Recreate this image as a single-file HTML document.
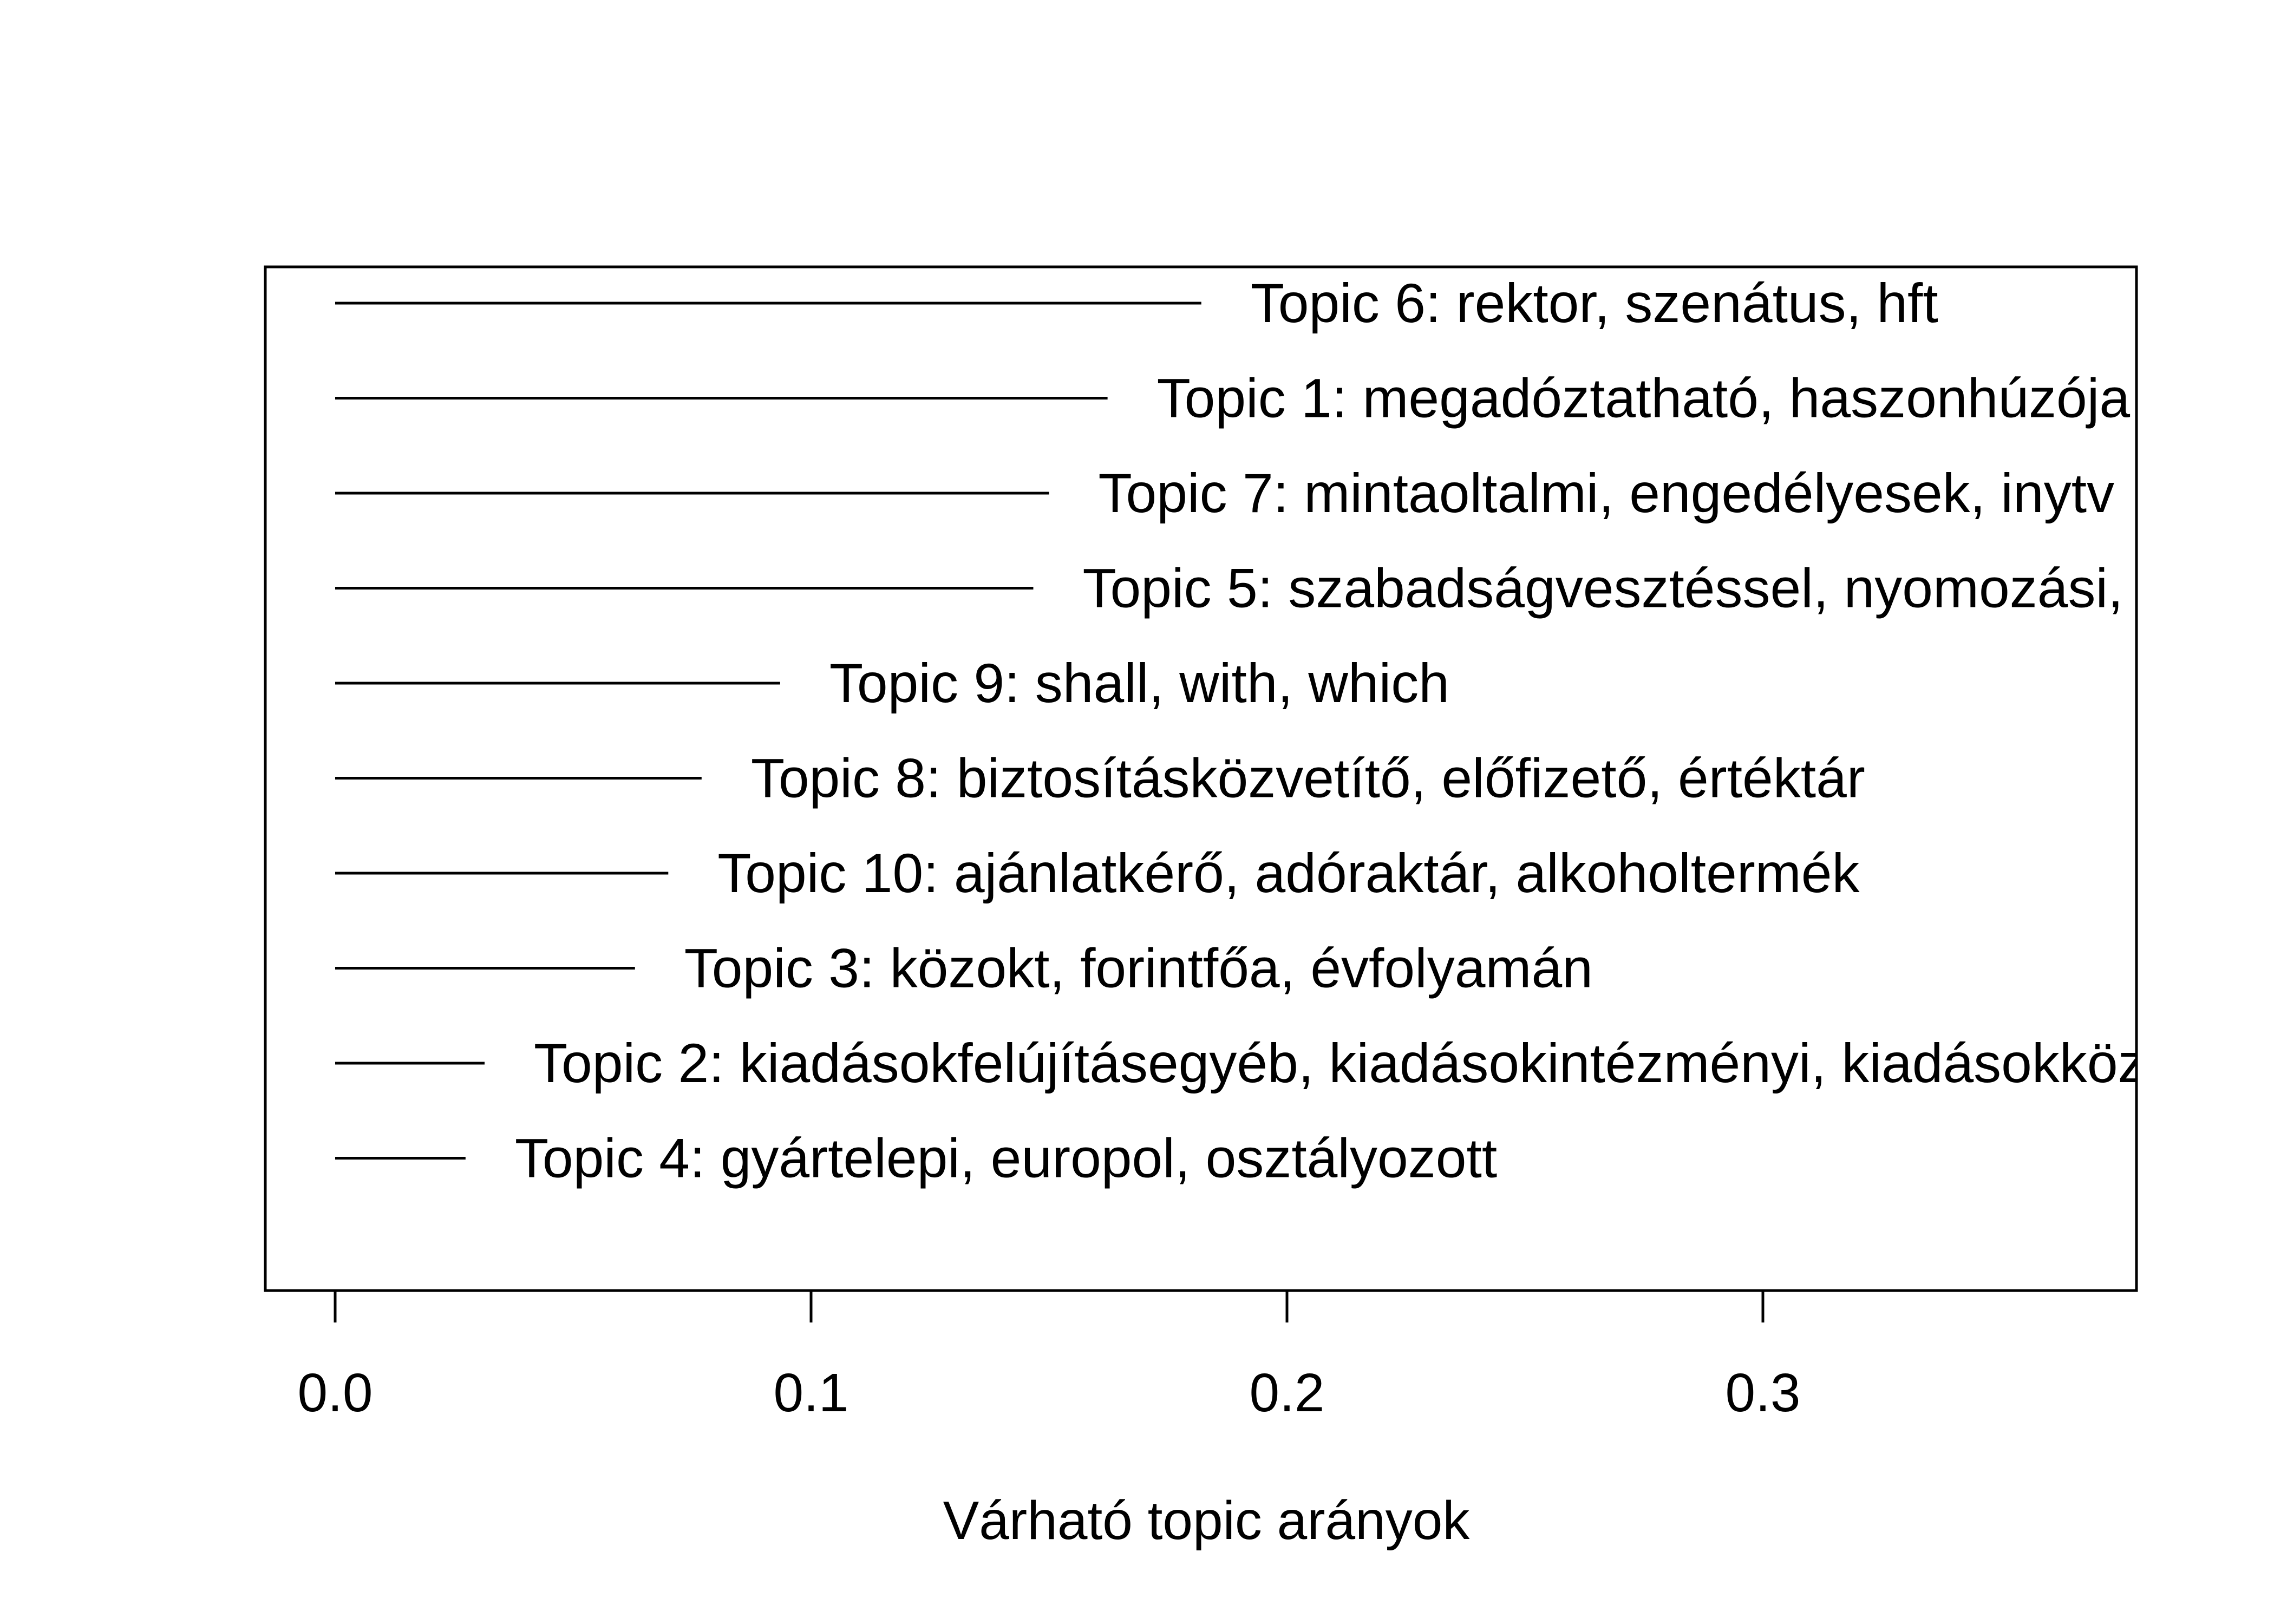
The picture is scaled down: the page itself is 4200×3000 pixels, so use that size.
<!DOCTYPE html>
<html><head><meta charset="utf-8"><style>
html,body{margin:0;padding:0;background:#fff;}
svg{display:block;font-family:"Liberation Sans",Arial,sans-serif;}
</style></head><body>
<svg id="chart" width="4200" height="3000" viewBox="0 0 4200 3000">
<defs><clipPath id="plotclip"><rect x="490" y="493" width="3456" height="1891"/></clipPath></defs>
<rect x="490" y="493" width="3456" height="1891" fill="none" stroke="#000" stroke-width="5"/>
<g id="marks" clip-path="url(#plotclip)"></g>
<g id="xaxis"></g>
<text x="2228" y="2843" font-size="100" text-anchor="middle">Várható topic arányok</text>
</svg>
<script>
const topicLabels = ["Topic 6: rektor, szenátus, hft","Topic 1: megadóztatható, haszonhúzója, kettős","Topic 7: mintaoltalmi, engedélyesek, inytv","Topic 5: szabadságvesztéssel, nyomozási, büntetőeljárás","Topic 9: shall, with, which","Topic 8: biztosításközvetítő, előfizető, értéktár","Topic 10: ajánlatkérő, adóraktár, alkoholtermék","Topic 3: közokt, forintfőa, évfolyamán","Topic 2: kiadásokfelújításegyéb, kiadásokintézményi, kiadásokközponti","Topic 4: gyártelepi, europol, osztályozott"];
const topicValues = [0.182,0.1623,0.150,0.1467,0.0935,0.077,0.070,0.063,0.0314,0.0274];
const xTicks = [0.0,0.1,0.2,0.3];
const xTickLabels = ["0.0","0.1","0.2","0.3"];
const NS="http://www.w3.org/2000/svg";
function xScale(v){return 619+v*8790;}
function yScale(i){return 560+i*175.5;}
const marks=document.getElementById('marks');
topicValues.forEach((v,i)=>{
  const y=yScale(i);
  const l=document.createElementNS(NS,'line');
  l.setAttribute('x1',xScale(0));l.setAttribute('x2',xScale(v));
  l.setAttribute('y1',y);l.setAttribute('y2',y);
  l.setAttribute('stroke','#000');l.setAttribute('stroke-width','5');
  
  
  marks.appendChild(l);
  const t=document.createElementNS(NS,'text');
  t.setAttribute('x',xScale(v)+91);t.setAttribute('y',y+35);
  t.setAttribute('font-size','102');
  t.textContent=topicLabels[i];
  
  
  marks.appendChild(t);
});
const xa=document.getElementById('xaxis');
const al=document.createElementNS(NS,'line');
al.setAttribute('x1',xScale(xTicks[0]));al.setAttribute('x2',xScale(xTicks[xTicks.length-1]));
al.setAttribute('y1',2384);al.setAttribute('y2',2384);
al.setAttribute('stroke','#000');al.setAttribute('stroke-width','5');


xa.appendChild(al);
xTicks.forEach((v,i)=>{
  const tk=document.createElementNS(NS,'line');
  tk.setAttribute('x1',xScale(v));tk.setAttribute('x2',xScale(v));
  tk.setAttribute('y1',2384);tk.setAttribute('y2',2443);
  tk.setAttribute('stroke','#000');tk.setAttribute('stroke-width','5');
  
  
  xa.appendChild(tk);
  const tx=document.createElementNS(NS,'text');
  tx.setAttribute('x',xScale(v));tx.setAttribute('y',2607);
  tx.setAttribute('font-size','100');tx.setAttribute('text-anchor','middle');
  tx.textContent=xTickLabels[i];
  
  
  xa.appendChild(tx);
});
</script>
</body></html>
